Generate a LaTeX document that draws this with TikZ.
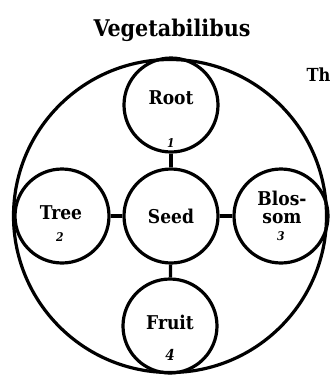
\documentclass[tikz,border=0pt]{standalone}
\usepackage{fontspec}
\setmainfont{DejaVu Serif Condensed}
\usepackage{tikz}
\usetikzlibrary{positioning}

\begin{document}
\begin{tikzpicture}[x=1pt, y=-1pt,
    part/.style={circle, draw, line width=3.2pt, minimum size=94pt, inner sep=0pt},
    link/.style={line width=3.2pt},
    word/.style={font=\fontsize{19}{18}\selectfont\bfseries},
    numeral/.style={font=\fontsize{12}{13}\selectfont\bfseries\itshape}]
  \useasboundingbox (0,0) rectangle (330,376);
  % whole and its parts
  \node[circle, draw, line width=3.2pt, minimum size=313pt, inner sep=0pt] (plant) at (170,216) {};
  \node[part] (seed) at (171,216) {};
  \node[part] (root) at (171,105) {};
  \node[part] (tree) at (62,216) {};
  \node[part] (blossom) at (281,216) {};
  \node[part] (fruit) at (170,326) {};
  % links to the seed
  \draw[link] (seed) -- (root);
  \draw[link] (seed) -- (tree);
  \draw[link] (seed) -- (blossom);
  \draw[link] (seed) -- (fruit);
  % labels
  \node[font=\fontsize{23}{25}\selectfont\bfseries] (title) at (172,30) {Vegetabilibus};
  \node[font=\fontsize{18}{20}\selectfont\bfseries, anchor=west] (th) at (303,75) {Th};
  \node[word] (seedtxt) at (171,216) {Seed};
  \node[word] (roottxt) at (171,98) {Root};
  \node[numeral] (one) at (171,143) {1};
  \node[word] (treetxt) at (61,213) {Tree};
  \node[numeral] (two) at (60,237) {2};
  \node[word, align=center] (blossomtxt) at (282,207) {Blos-\\som};
  \node[numeral] (three) at (281,236) {3};
  \node[word] (fruittxt) at (170,322) {Fruit};
  \node[numeral, font=\fontsize{15}{16}\selectfont\bfseries\itshape] (four) at (170,355) {4};
\end{tikzpicture}
\end{document}
